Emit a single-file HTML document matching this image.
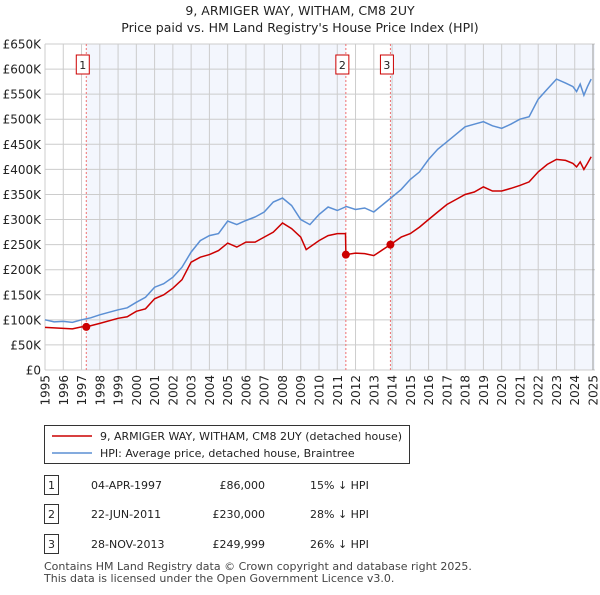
<!DOCTYPE html>
<html><head><meta charset="utf-8"><style>
body{margin:0;background:#fff;font-family:"Liberation Sans","DejaVu Sans",sans-serif;}
svg text{font-family:"DejaVu Sans","Liberation Sans",sans-serif;}
</style></head><body>
<svg id="c" width="600" height="590" xmlns="http://www.w3.org/2000/svg"></svg>
<script>
const hpiYears=[1995,1995.5,1996,1996.5,1997,1997.5,1998,1998.5,1999,1999.5,2000,2000.5,2001,2001.5,2002,2002.5,2003,2003.5,2004,2004.5,2005,2005.5,2006,2006.5,2007,2007.5,2008,2008.5,2009,2009.5,2010,2010.5,2011,2011.5,2012,2012.5,2013,2013.5,2014,2014.5,2015,2015.5,2016,2016.5,2017,2017.5,2018,2018.5,2019,2019.5,2020,2020.5,2021,2021.5,2022,2022.5,2023,2023.5,2023.9,2024.1,2024.3,2024.5,2024.7,2024.9];
const hpiValues=[100,96,97,95,100,104,110,115,120,124,135,145,165,172,185,205,235,258,268,272,297,290,298,305,315,335,343,328,300,290,310,325,318,326,320,323,315,330,345,360,380,395,420,440,455,470,485,490,495,487,482,490,500,505,540,560,580,572,565,555,570,548,565,580];
const priceYears=[1995,1996,1996.5,1997,1997.26,1998,1999,1999.5,2000,2000.5,2001,2001.5,2002,2002.5,2003,2003.5,2004,2004.5,2005,2005.5,2006,2006.5,2007,2007.5,2008,2008.5,2009,2009.3,2010,2010.5,2011,2011.45,2011.47,2012,2012.5,2013,2013.91,2014.5,2015,2015.5,2016,2016.5,2017,2017.5,2018,2018.5,2019,2019.5,2020,2020.5,2021,2021.5,2022,2022.5,2023,2023.5,2023.9,2024.1,2024.3,2024.5,2024.7,2024.9];
const priceValues=[85,83,82,86,86,93,103,106,117,122,142,150,163,180,215,225,230,238,253,245,255,255,265,275,293,282,265,240,258,268,272,272,230,233,232,228,250,265,272,285,300,315,330,340,350,355,365,357,357,362,368,375,395,410,420,418,412,405,415,400,412,425];
const saleLabels=["1","2","3"];
const saleYears=[1997.26,2011.47,2013.91];
const saleValues=[86,230,249.999];
const yTicks=[0,50,100,150,200,250,300,350,400,450,500,550,600,650];
const yTickLabels=["£0","£50K","£100K","£150K","£200K","£250K","£300K","£350K","£400K","£450K","£500K","£550K","£600K","£650K"];
const xTicks=[1995,1996,1997,1998,1999,2000,2001,2002,2003,2004,2005,2006,2007,2008,2009,2010,2011,2012,2013,2014,2015,2016,2017,2018,2019,2020,2021,2022,2023,2024,2025];

const X0=45,X1=593,Y0=370,Y1=44;
const x=v=>X0+(v-1995)*(X1-X0)/30;
const y=v=>Y0-v*(Y0-Y1)/650;
const svg=document.getElementById('c');
const NS='http://www.w3.org/2000/svg';
function mk(t,a,p){const e=document.createElementNS(NS,t);for(const k in a)e.setAttribute(k,a[k]);(p||svg).appendChild(e);return e;}

let e;
e=mk('text',{x:300,y:15,'text-anchor':'middle','font-size':12.5,fill:'#222'});e.textContent='9, ARMIGER WAY, WITHAM, CM8 2UY';


e=mk('text',{x:300,y:32,'text-anchor':'middle','font-size':12.5,fill:'#222'});e.textContent="Price paid vs. HM Land Registry's House Price Index (HPI)";



e=mk('rect',{x:X0,y:Y1,width:X1+2-X0,height:Y0-Y1,fill:'#f3f6fd'});


e=mk('rect',{x:X0,y:Y1,width:x(saleYears[0])-X0,height:Y0-Y1,fill:'#fff'});


e=mk('rect',{x:x(saleYears[1]),y:Y1,width:x(saleYears[2])-x(saleYears[1]),height:Y0-Y1,fill:'#fff'});



yTicks.forEach((v,i)=>{
 const g=mk('line',{x1:X0,x2:X1+2,y1:y(v),y2:y(v),stroke:'#cccccc','stroke-width':1});
 
 
 const t=mk('text',{x:X0-4,y:y(v)+4.5,'text-anchor':'end','font-size':12,fill:'#222'});t.textContent=yTickLabels[i];
 
 
});
xTicks.forEach(v=>{
 const g=mk('line',{x1:x(v),x2:x(v),y1:Y1,y2:Y0,stroke:'#cccccc','stroke-width':1});
 
 
 const t=mk('text',{transform:`translate(${x(v)+4.5},${Y0+5}) rotate(-90)`,'text-anchor':'end','font-size':12,fill:'#222'});t.textContent=v;
 
 
});
e=mk('line',{x1:X1,x2:X1,y1:Y1,y2:Y0,stroke:'#999','stroke-width':1});



saleYears.forEach((v,i)=>{
 const l=mk('line',{x1:x(v),x2:x(v),y1:Y1,y2:Y0,stroke:'#f07070','stroke-width':1,'stroke-dasharray':'2,2'});
 
 
 const r=mk('rect',{x:x(v)-10,y:55,width:13,height:19,fill:'#fff',stroke:'#c00','stroke-width':1});
 
 
 const t=mk('text',{x:x(v)-3.5,y:69,'text-anchor':'middle','font-size':11,fill:'#222'});t.textContent=saleLabels[i];
 
 
});

function path(xs,vs){return xs.map((v,i)=>(i?'L':'M')+x(v).toFixed(1)+','+y(vs[i]).toFixed(1)).join('');}
e=mk('path',{d:path(hpiYears,hpiValues),fill:'none',stroke:'#5b8fd4','stroke-width':1.5});


e=mk('path',{d:path(priceYears,priceValues),fill:'none',stroke:'#cc0000','stroke-width':1.5});


saleYears.forEach((v,i)=>{
 const c=mk('circle',{cx:x(v),cy:y(saleValues[i]),r:4,fill:'#cc0000'});
 
 
});

e=mk('rect',{x:44.5,y:425.5,width:365,height:38,fill:'#fff',stroke:'#333','stroke-width':1});


e=mk('line',{x1:52,x2:92,y1:436,y2:436,stroke:'#cc0000','stroke-width':1.5});


e=mk('text',{x:100,y:440,'font-size':11,fill:'#222'});e.textContent='9, ARMIGER WAY, WITHAM, CM8 2UY (detached house)';


e=mk('line',{x1:52,x2:92,y1:453,y2:453,stroke:'#5b8fd4','stroke-width':1.5});


e=mk('text',{x:100,y:457,'font-size':11,fill:'#222'});e.textContent='HPI: Average price, detached house, Braintree';



const rowsDate=["04-APR-1997","22-JUN-2011","28-NOV-2013"];
const rowsPrice=["£86,000","£230,000","£249,999"];
const rowsHpi=["15% ↓ HPI","28% ↓ HPI","26% ↓ HPI"];
[486,515,545].forEach((ry,i)=>{
 const b=mk('rect',{x:44.5,y:ry-10.5,width:14,height:19,fill:'#fff',stroke:'#333','stroke-width':1});
 
 
 let t=mk('text',{x:51.5,y:ry+3,'text-anchor':'middle','font-size':11,fill:'#222'});t.textContent=saleLabels[i];
 
 
 t=mk('text',{x:91,y:ry+3,'font-size':11,fill:'#222'});t.textContent=rowsDate[i];
 
 
 t=mk('text',{x:265,y:ry+3,'text-anchor':'end','font-size':11,fill:'#222'});t.textContent=rowsPrice[i];
 
 
 t=mk('text',{x:310,y:ry+3,'font-size':11,fill:'#222'});t.textContent=rowsHpi[i];
 
 
});
e=mk('text',{x:44,y:570,'font-size':11,fill:'#444'});e.textContent='Contains HM Land Registry data © Crown copyright and database right 2025.';


e=mk('text',{x:44,y:582,'font-size':11,fill:'#444'});e.textContent='This data is licensed under the Open Government Licence v3.0.';


</script>
</body></html>
